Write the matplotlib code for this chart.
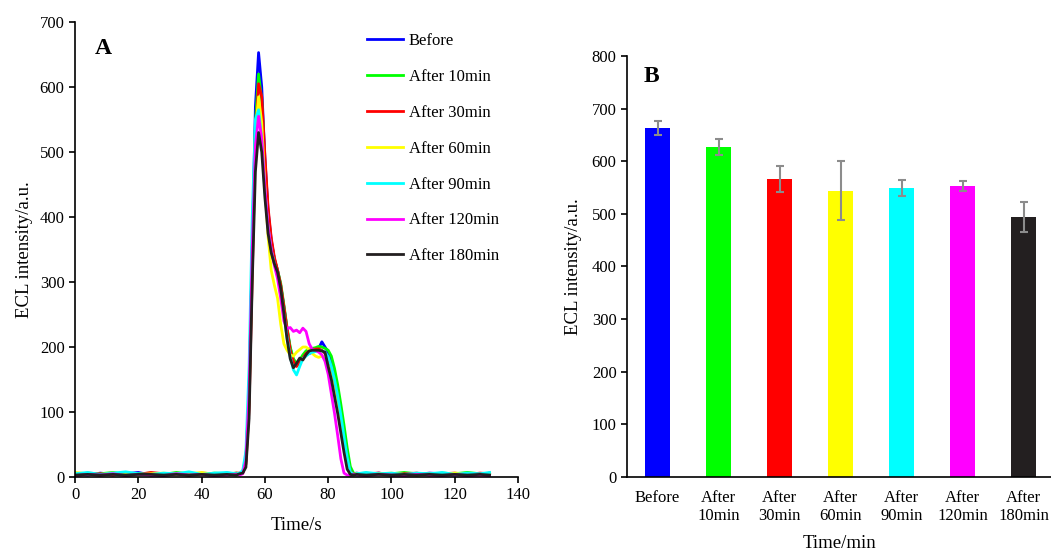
import matplotlib.pyplot as plt
import numpy as np

plt.rcParams['font.family'] = ['Liberation Serif', 'DejaVu Serif']
plt.rcParams['font.size'] = 12

# ---- panel A: ECL-time traces ----
time_s = [0, 4, 8, 12, 16, 20, 24, 28, 32, 36, 40, 44, 48, 51,
          52, 53, 54, 55, 56, 57, 58, 59, 60, 61, 62, 63, 64, 65, 66, 67, 68, 69, 70,
          71, 72, 73, 74, 75, 76, 77, 78, 79, 80, 81, 82, 83, 84, 85, 86, 87, 88, 89,
          92, 96, 100, 104, 108, 112, 116, 120, 124, 128, 131]

before = [5, 3, 6, 4, 5, 7, 3, 5, 4, 6, 5, 4, 6, 5,
          4, 8, 30, 130, 350, 570, 653, 600, 490, 410, 365, 335, 318, 295, 262, 228, 198, 180, 172,
          178, 184, 188, 190, 192, 194, 198, 208, 200, 192, 178, 150, 120, 88, 55, 22, 7, 5, 6,
          4, 6, 3, 5, 4, 6, 5, 3, 5, 4, 6]
after_10 = [6, 4, 5, 7, 4, 5, 6, 4, 7, 5, 4, 6, 5, 6,
            5, 7, 25, 120, 340, 545, 620, 580, 480, 405, 362, 335, 318, 298, 265, 230, 200, 182, 175,
            180, 188, 194, 197, 198, 199, 201, 200, 198, 195, 186, 167, 142, 112, 80, 45, 16, 6, 5,
            6, 4, 5, 7, 5, 4, 6, 5, 7, 5, 4]
after_30 = [4, 6, 5, 3, 6, 4, 7, 5, 5, 3, 6, 5, 4, 6,
            6, 6, 20, 105, 310, 520, 605, 585, 495, 415, 368, 338, 318, 295, 262, 228, 195, 178, 170,
            176, 183, 190, 194, 196, 197, 197, 195, 190, 182, 168, 142, 116, 88, 56, 26, 8, 5, 4,
            5, 6, 4, 5, 6, 3, 5, 6, 4, 6, 5]
after_60 = [7, 5, 4, 6, 5, 3, 5, 6, 4, 5, 7, 4, 5, 4,
            5, 8, 28, 125, 340, 530, 585, 545, 450, 370, 318, 295, 275, 235, 205, 195, 188, 186, 192,
            196, 200, 200, 196, 190, 186, 184, 186, 183, 172, 154, 130, 104, 75, 45, 16, 5, 4, 5,
            4, 5, 6, 4, 3, 5, 4, 6, 5, 3, 6]
after_90 = [5, 7, 4, 6, 8, 5, 4, 6, 5, 8, 4, 6, 7, 5,
            6, 10, 40, 170, 400, 550, 565, 520, 440, 385, 350, 328, 310, 285, 250, 215, 185, 165, 157,
            170, 182, 186, 190, 192, 193, 194, 194, 192, 185, 170, 150, 125, 95, 62, 30, 8, 4, 5,
            7, 5, 6, 4, 6, 5, 7, 4, 6, 5, 7]
after_120 = [2, 4, 3, 5, 2, 4, 3, 2, 5, 3, 4, 2, 3, 4,
             3, 5, 25, 130, 350, 510, 555, 520, 445, 385, 350, 325, 305, 275, 240, 228, 230, 224, 226,
             222, 229, 224, 205, 196, 195, 192, 188, 178, 158, 128, 98, 64, 28, 6, 3, 2, 4, 3,
             2, 4, 3, 2, 4, 3, 2, 4, 2, 3, 2]
after_180 = [3, 4, 3, 4, 3, 4, 4, 3, 4, 3, 4, 3, 4, 3,
             5, 6, 15, 90, 300, 470, 530, 500, 430, 375, 345, 328, 315, 290, 252, 212, 182, 168, 175,
             183, 180, 188, 194, 195, 195, 195, 194, 192, 170, 150, 124, 98, 68, 38, 12, 4, 3, 4,
             3, 4, 3, 4, 3, 4, 3, 4, 3, 4, 3]

trace_labels = ['Before', 'After 10min', 'After 30min', 'After 60min',
                'After 90min', 'After 120min', 'After 180min']
colors = ['#0000FF', '#00FF00', '#FF0000', '#FFFF00', '#00FFFF', '#FF00FF', '#231F20']

# ---- panel B: mean intensity with error bars ----
bar_labels = ['Before', 'After\n10min', 'After\n30min', 'After\n60min',
              'After\n90min', 'After\n120min', 'After\n180min']
mean_ecl = [663, 627, 566, 544, 549, 553, 494]
err_ecl = [13, 16, 25, 56, 15, 9, 29]

fig = plt.figure(figsize=(10.51, 5.51), dpi=100)
ax1 = fig.add_axes([0.0714, 0.1343, 0.4215, 0.8257])
ax2 = fig.add_axes([0.5966, 0.1343, 0.4034, 0.7641])

traces = [before, after_10, after_30, after_60, after_90, after_120, after_180]
for y, lab, c in zip(traces, trace_labels, colors):
    ax1.plot(time_s, y, color=c, lw=2, label=lab)

ax1.set_xlim(0, 140)
ax1.set_ylim(0, 700)
ax1.set_xticks(range(0, 141, 20))
ax1.set_yticks(range(0, 701, 100))
ax1.set_xlabel('Time/s', fontsize=13.5, labelpad=10)
ax1.set_ylabel('ECL intensity/a.u.', fontsize=13.5, labelpad=5)
ax1.text(0.045, 0.965, 'A', transform=ax1.transAxes, fontsize=17,
         fontweight='bold', va='top')
ax1.legend(loc='upper left', bbox_to_anchor=(0.6435, 0.99), frameon=False,
           handlelength=2.17, handletextpad=0.35, labelspacing=1.19,
           borderaxespad=0)

x = np.arange(len(mean_ecl))
ax2.bar(x, mean_ecl, width=0.41, color=colors)
ax2.errorbar(x, mean_ecl, yerr=err_ecl, fmt='none', ecolor='#8C8C8C',
             elinewidth=1.5, capsize=3, capthick=1.5)
ax2.set_xlim(-0.5, 6.45)
ax2.set_ylim(0, 800)
ax2.set_yticks(range(0, 801, 100))
ax2.set_xticks(x)
ax2.set_xticklabels(bar_labels, linespacing=1.2)
ax2.set_xlabel('Time/min', fontsize=13.5, labelpad=8)
ax2.set_ylabel('ECL intensity/a.u.', fontsize=13.5, labelpad=7)
ax2.text(0.04, 0.977, 'B', transform=ax2.transAxes, fontsize=17,
         fontweight='bold', va='top')

for ax in (ax1, ax2):
    ax.spines['top'].set_visible(False)
    ax.spines['right'].set_visible(False)
    ax.spines['left'].set_linewidth(1.2)
    ax.spines['bottom'].set_linewidth(1.2)
    ax.tick_params(direction='out', width=1.2, length=4, labelsize=12)
ax2.tick_params(axis='x', length=0, pad=9)

fig.savefig('out.png', dpi=100)
